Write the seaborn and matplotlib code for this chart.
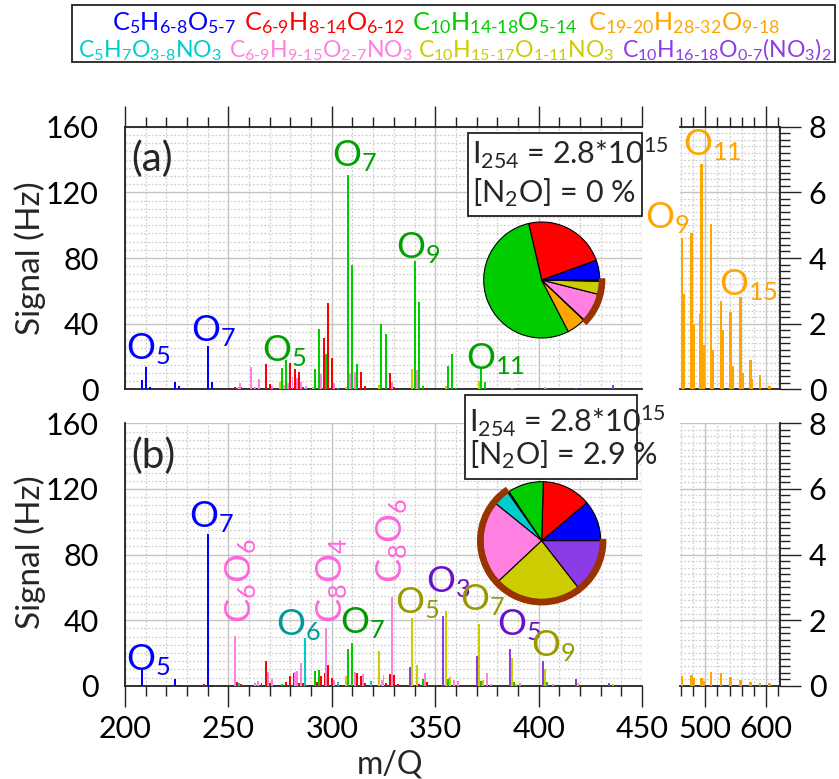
import matplotlib
matplotlib.use("Agg")
import matplotlib.pyplot as plt
import seaborn as sns
import numpy as np
import pandas as pd
from matplotlib.patches import Wedge, Rectangle
from matplotlib.ticker import MultipleLocator

# ---------------- data ----------------
families = ["C5", "C6-9", "C10", "C19-20", "C5NO3", "C6-9NO3", "C10NO3", "C10(NO3)2"]
family_colors = ["#0000ff", "#ff0000", "#00cc00", "#ffa500",
                 "#00cccc", "#ff80e0", "#cccc00", "#8c3ce6"]
legend_labels = [
    r"$\mathregular{C_5H_{6\text{-}8}O_{5\text{-}7}}$",
    r"$\mathregular{C_{6\text{-}9}H_{8\text{-}14}O_{6\text{-}12}}$",
    r"$\mathregular{C_{10}H_{14\text{-}18}O_{5\text{-}14}}$",
    r"$\mathregular{C_{19\text{-}20}H_{28\text{-}32}O_{9\text{-}18}}$",
    r"$\mathregular{C_5H_7O_{3\text{-}8}NO_3}$",
    r"$\mathregular{C_{6\text{-}9}H_{9\text{-}15}O_{2\text{-}7}NO_3}$",
    r"$\mathregular{C_{10}H_{15\text{-}17}O_{1\text{-}11}NO_3}$",
    r"$\mathregular{C_{10}H_{16\text{-}18}O_{0\text{-}7}(NO_3)_2}$",
]

# panel (a): N2O = 0 %
a_C5_mz = [208, 210, 212, 224, 226, 228, 240, 242]
a_C5_sig = [5.7, 13.8, 1.6, 4.5, 2.2, 1.0, 26.6, 4.3]
a_C69_mz = [253, 256, 268, 270, 280, 282, 284, 286, 296, 298, 300, 314, 316, 328, 330, 346]
a_C69_sig = [1.2, 1.6, 15.6, 3.3, 15.8, 12.3, 10.8, 1.6, 31.5, 52.8, 19.3, 10.8, 2.2, 9.8, 1.6, 0.6]
a_C10_mz = [276, 278, 292, 294, 297, 308, 310, 312, 324, 326, 340, 342, 344, 356, 358, 360, 372, 374, 388]
a_C10_sig = [12.7, 17.9, 12.5, 36.7, 21.5, 130.6, 75.8, 15.4, 39.8, 33.9, 78.4, 53.4, 2.0, 14.0, 21.4, 0.8, 12.8, 4.3, 1.0]
a_C5N_mz = [287, 303]
a_C5N_sig = [0.5, 0.5]
a_C69N_mz = [254.5, 255.5, 261, 263, 265, 271, 277, 279, 281, 283, 285, 287.5, 295, 301, 309, 311, 329, 341]
a_C69N_sig = [1.5, 3.7, 13.4, 1.6, 6.1, 2.0, 2.6, 3.7, 7.7, 6.7, 4.7, 2.0, 9.5, 3.7, 9.8, 10.8, 4.7, 12.0]
a_C10N_mz = [275, 291, 307, 323, 339, 355, 371, 387, 403]
a_C10N_sig = [4.7, 1.2, 1.2, 2.4, 12.2, 2.0, 5.1, 1.0, 1.2]
a_C10N2_mz = [356, 388, 404, 418, 436]
a_C10N2_sig = [0.5, 0.6, 1.0, 0.6, 2.6]
# dimers (right axis, 0-8)
a_dimer_mz = [462, 465, 478, 481, 492, 494, 497, 510, 513, 526, 529, 542, 545, 558, 561, 574, 577, 590, 606]
a_dimer_sig = [4.6, 2.9, 4.75, 2.0, 2.3, 6.85, 1.35, 5.05, 1.2, 2.7, 1.8, 2.35, 0.7, 2.8, 0.5, 0.9, 0.3, 0.45, 0.1]

# panel (b): N2O = 2.9 %
b_C5_mz = [208, 224, 226, 240, 242]
b_C5_sig = [9.5, 3.9, 0.4, 92.4, 0.4]
b_C69_mz = [238, 254, 256, 266, 268, 270, 278, 280, 281.5, 284, 286, 293, 295, 296.5, 298, 300,
            312, 314, 316, 326, 328, 330, 332, 342, 346]
b_C69_sig = [1.0, 2.4, 0.8, 1.8, 15.0, 1.4, 2.4, 5.9, 7.9, 1.8, 1.4, 2.4, 5.9, 7.9, 12.4, 4.5,
             7.5, 5.9, 1.8, 1.4, 7.1, 6.5, 0.8, 0.8, 2.4]
b_C10_mz = [276, 292, 294, 308, 310, 344, 356, 372, 388, 404]
b_C10_sig = [1.0, 9.1, 9.5, 22.1, 25.8, 3.9, 4.3, 3.0, 2.4, 2.2]
b_C5N_mz = [255, 287, 303, 319]
b_C5N_sig = [1.8, 28.8, 2.0, 2.6]
b_C69N_mz = [253, 263, 264.5, 269, 271, 282, 283.2, 285, 297, 301, 311.3, 315.3, 324.2, 329, 345,
             359, 361, 375, 377, 391, 407]
b_C69N_sig = [30.5, 1.8, 3.0, 8.1, 3.9, 8.5, 8.9, 14.0, 34.9, 3.4, 8.5, 7.1, 3.4, 53.8, 7.9,
              3.5, 2.6, 7.5, 1.0, 1.4, 1.2]
b_C10N_mz = [307, 323, 325, 339, 341, 355, 357, 371, 373, 387, 389, 403, 419, 436]
b_C10N_sig = [5.9, 21.1, 6.5, 41.2, 12.6, 45.7, 5.1, 37.4, 3.5, 16.9, 1.0, 10.4, 1.4, 0.8]
b_C10N2_mz = [338, 354, 370, 386, 402, 418, 434]
b_C10N2_sig = [11.4, 42.5, 18.1, 22.5, 15.2, 4.1, 1.4]
b_dimer_mz = [462, 478, 481, 494, 497, 510, 526, 542, 558, 574, 590, 606]
b_dimer_sig = [0.31, 0.32, 0.22, 0.25, 0.15, 0.41, 0.38, 0.26, 0.16, 0.12, 0.07, 0.07]

# pie fractions (degrees of the circle), legend order
pie_a = [20, 83, 194.3, 19, 0.5, 29, 13, 1.2]
pie_b = [40.1, 48.3, 35.3, 1.3, 16, 82, 84.7, 52]

# labels: (text, m/Q, signal, colour)
labels_a_left = [("O$_5$", 211, 18, "#0000ff"), ("O$_7$", 243, 29, "#0000ff"),
                 ("O$_5$", 277, 17, "#00a000"), ("O$_7$", 311, 136, "#00a000"),
                 ("O$_9$", 342, 80, "#00a000"), ("O$_{11}$", 379, 12, "#00a000")]
labels_a_right = [("O$_9$", 438, 4.9, "#ffa500"), ("O$_{11}$", 512, 7.14, "#ffa500"),
                  ("O$_{15}$", 571, 2.87, "#ffa500")]
labels_b = [("O$_5$", 211, 9.6, "#0000ff"), ("O$_7$", 242, 96.5, "#0000ff"),
            ("O$_6$", 284, 31, "#009999"), ("O$_7$", 315, 32, "#009900"),
            ("O$_5$", 341.5, 44, "#999900"), ("O$_3$", 356.5, 57, "#6a10cc"),
            ("O$_7$", 373, 46, "#999900"), ("O$_5$", 390.6, 31, "#6a10cc"),
            ("O$_9$", 407, 17.7, "#999900")]
labels_b_rot = [("C$_6$O$_6$", 256, 38, "#ff66dd"), ("C$_8$O$_4$", 300.4, 38, "#ff66dd"),
                ("C$_8$O$_6$", 329.4, 62.4, "#ff66dd")]

# legend rows: indices, start x, baseline y, total reference width, gaps between entries
legend_rows = [([0, 1, 2, 3], 112, 30, 643, [8, 7, 10]),
               ([4, 5, 6, 7], 78, 57, 734, [7, 6, 7])]

# ---------------- style ----------------
sns.set_theme(style="white")
FONT = "Lato"
plt.rcParams["font.family"] = [FONT, "DejaVu Sans"]
plt.rcParams["mathtext.fontset"] = "custom"
plt.rcParams["mathtext.rm"] = FONT
plt.rcParams["mathtext.it"] = FONT
plt.rcParams["mathtext.bf"] = FONT
plt.rcParams["axes.unicode_minus"] = False

W, H, DPI = 839, 779, 100
fig = plt.figure(figsize=(W / DPI, H / DPI), dpi=DPI)
fig.patch.set_facecolor("white")

TICK_FS = 22
LAB_FS = 26
SPINE = "#222222"


def fbox(x0, y0, x1, y1):
    return [x0 / W, 1 - y1 / H, (x1 - x0) / W, (y1 - y0) / H]


def style_axis(ax, grid_x_major, grid_x_minor, grid_y_major, grid_y_minor):
    ax.set_facecolor("white")
    ax.xaxis.set_major_locator(MultipleLocator(grid_x_major))
    ax.xaxis.set_minor_locator(MultipleLocator(grid_x_minor))
    ax.yaxis.set_major_locator(MultipleLocator(grid_y_major))
    ax.yaxis.set_minor_locator(MultipleLocator(grid_y_minor))
    ax.grid(which="major", color="#c4c4c4", lw=1.0, zorder=0)
    ax.grid(which="minor", color="#cfcfcf", lw=0.9, ls=(0, (1.5, 1.5)), zorder=0)
    ax.set_axisbelow(True)
    ax.tick_params(which="both", direction="out", color=SPINE, width=1.0,
                   labelsize=TICK_FS, labelcolor="black")
    ax.tick_params(which="major", length=15)
    ax.tick_params(which="minor", length=7)
    for s in ax.spines.values():
        s.set_color(SPINE)
        s.set_linewidth(1.3)


def draw_panel(y_top, y_bot, left_sets, dimer_mz, dimer_sig, is_top):
    axL = fig.add_axes(fbox(125, y_top, 642, y_bot))
    axR = fig.add_axes(fbox(679.5, y_top, 779.5, y_bot))
    style_axis(axL, 50, 10, 40, 5)
    style_axis(axR, 100, 20, 2, 0.2)
    axL.set_xlim(200, 450)
    axL.set_ylim(0, 160)
    axR.set_xlim(458, 622)
    axR.set_ylim(0, 8)
    for (mz, sig), col in zip(left_sets, family_colors):
        if len(mz):
            axL.bar(mz, sig, width=0.95, color=col, linewidth=0, zorder=3)
    axR.bar(dimer_mz, dimer_sig, width=4.2, color=family_colors[3], linewidth=0, zorder=3)

    axL.spines["right"].set_visible(False)
    axR.spines["left"].set_visible(False)
    axR.yaxis.tick_right()
    axR.tick_params(axis="y", which="both", left=False, right=True, pad=6)
    axL.tick_params(axis="y", which="both", right=False, pad=4)
    axL.set_yticks([0, 40, 80, 120, 160])
    axR.set_yticks([0, 2, 4, 6, 8])
    if is_top:
        for ax in (axL, axR):
            ax.tick_params(axis="x", which="both", top=True, bottom=False,
                           labelbottom=False, labeltop=False)
    else:
        for ax in (axL, axR):
            ax.spines["top"].set_visible(False)
            ax.tick_params(axis="x", which="both", top=False, bottom=True,
                           labelbottom=True, pad=6)
        axL.set_xticks([200, 250, 300, 350, 400, 450])
        axR.set_xticks([500, 600])
    axL.set_xlabel("")
    axL.set_ylabel("")
    return axL, axR


sets_a = [(a_C5_mz, a_C5_sig), (a_C69_mz, a_C69_sig), (a_C10_mz, a_C10_sig), ([], []),
          (a_C5N_mz, a_C5N_sig), (a_C69N_mz, a_C69N_sig), (a_C10N_mz, a_C10N_sig),
          (a_C10N2_mz, a_C10N2_sig)]
sets_b = [(b_C5_mz, b_C5_sig), (b_C69_mz, b_C69_sig), (b_C10_mz, b_C10_sig), ([], []),
          (b_C5N_mz, b_C5N_sig), (b_C69N_mz, b_C69N_sig), (b_C10N_mz, b_C10N_sig),
          (b_C10N2_mz, b_C10N2_sig)]

axLa, axRa = draw_panel(126.7, 389.3, sets_a, a_dimer_mz, a_dimer_sig, True)
axLb, axRb = draw_panel(423.3, 685.7, sets_b, b_dimer_mz, b_dimer_sig, False)

# peak labels
for t, x, y, c in labels_a_left:
    axLa.text(x, y, t, color=c, fontsize=LAB_FS, ha="center", va="baseline", zorder=5, clip_on=False)
for t, x, y, c in labels_a_right:
    axRa.text(x, y, t, color=c, fontsize=LAB_FS, ha="center", va="baseline", zorder=5, clip_on=False)
for t, x, y, c in labels_b:
    axLb.text(x, y, t, color=c, fontsize=LAB_FS, ha="center", va="baseline", zorder=5, clip_on=False)
for t, x, y, c in labels_b_rot:
    axLb.text(x, y, t, color=c, fontsize=LAB_FS, ha="center", va="bottom", rotation=90,
              zorder=5, clip_on=False)

axLa.text(0.012, 0.83, "(a)", transform=axLa.transAxes, fontsize=29, ha="left", va="baseline")
axLb.text(0.012, 0.83, "(b)", transform=axLb.transAxes, fontsize=29, ha="left", va="baseline")

# axis titles
fig.text(30 / W, 1 - 258 / H, "Signal (Hz)", rotation=90, fontsize=24, ha="center", va="center")
fig.text(30 / W, 1 - 552 / H, "Signal (Hz)", rotation=90, fontsize=24, ha="center", va="center")
fig.text(390 / W, 1 - 765 / H, "m/Q", fontsize=23, ha="center", va="center")

# info boxes
def info_box(x0, y0, x1, y1, l1y, l2y, n2o):
    fig.add_artist(Rectangle((x0 / W, 1 - y1 / H), (x1 - x0) / W, (y1 - y0) / H,
                             transform=fig.transFigure, fill=True, facecolor="white",
                             edgecolor="#222222", lw=1.3, zorder=6))
    fig.text((x0 + 4) / W, 1 - l1y / H, r"I$_{254}$ = 2.8*10$^{15}$", fontsize=TICK_FS,
             ha="left", va="baseline", zorder=7)
    fig.text((x0 + 4) / W, 1 - l2y / H, "[N$_2$O] = " + n2o, fontsize=TICK_FS,
             ha="left", va="baseline", zorder=7)

info_box(468, 133, 642, 216, 164, 202, "0 %")
info_box(465, 395, 637, 479, 432, 464, "2.9 %")

# pies
def draw_pie(cx, cy, R, sizes, ring_start):
    s = R * 1.15
    ax = fig.add_axes(fbox(cx - s, cy - s, cx + s, cy + s))
    ax.pie(sizes, colors=family_colors, startangle=0, counterclock=True, radius=1,
           wedgeprops=dict(edgecolor="black", linewidth=0.8))
    ax.add_patch(Wedge((0, 0), 1.085, ring_start, 361, width=0.09, color="#993300", zorder=5))
    ax.set_xlim(-1.15, 1.15)
    ax.set_ylim(-1.15, 1.15)
    ax.set_aspect("equal")
    ax.axis("off")

cum_a = np.cumsum(pie_a) / np.sum(pie_a) * 360
cum_b = np.cumsum(pie_b) / np.sum(pie_b) * 360
draw_pie(541.7, 280, 58, pie_a, cum_a[3] - 1)
draw_pie(541.7, 540.7, 59, pie_b, cum_b[3] - 1)

# legend: coloured text entries, one uniform font size per row
fig.add_artist(Rectangle((72 / W, 1 - 62 / H), (835 - 72) / W, (62 - 5) / H,
                         transform=fig.transFigure, fill=False, edgecolor="#222222", lw=1.3))
renderer = fig.canvas.get_renderer()
for idxs, x0, yb, total_w, gaps in legend_rows:
    texts = [fig.text(0, 1 - yb / H, legend_labels[i], color=family_colors[i], fontsize=20,
                      ha="left", va="baseline") for i in idxs]
    widths = [t.get_window_extent(renderer).width for t in texts]
    fs = min(21.0, 20.0 * total_w / sum(widths))
    x = x0
    for k, t in enumerate(texts):
        t.set_fontsize(fs)
        t.set_x(x / W)
        w = t.get_window_extent(renderer).width
        if k < len(gaps):
            x += w + gaps[k]

fig.savefig("out.png", dpi=DPI, facecolor="white")
